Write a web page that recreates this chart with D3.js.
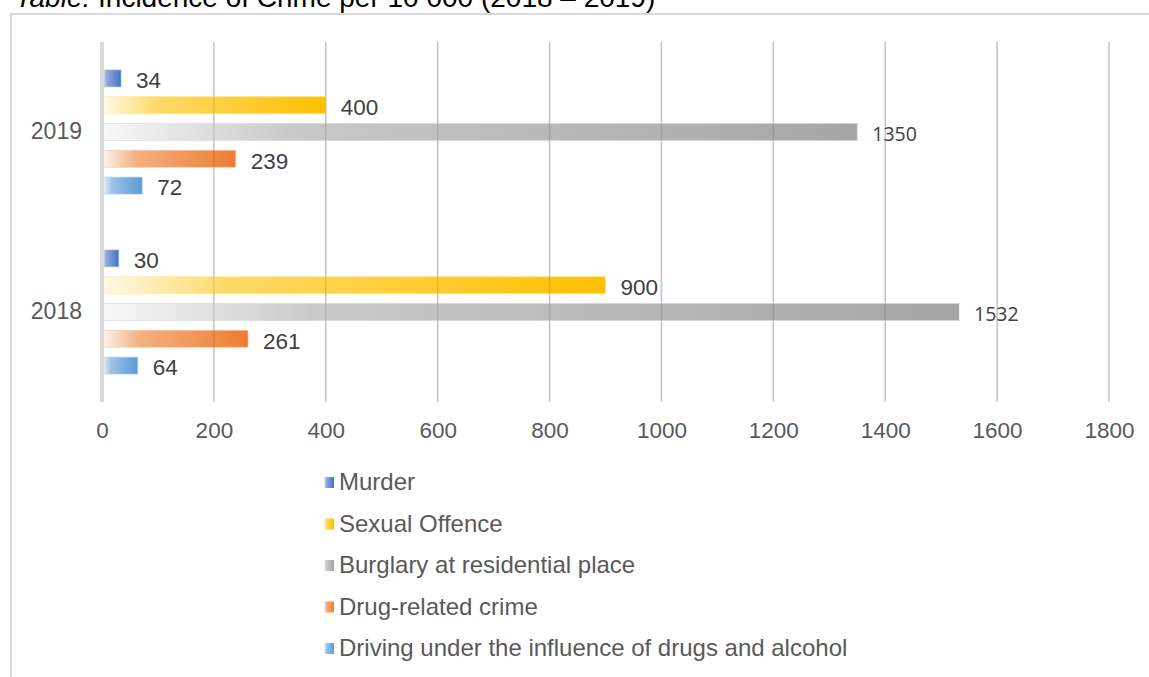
<!DOCTYPE html>
<html>
<head>
<meta charset="utf-8">
<script src="https://cdn.jsdelivr.net/npm/d3@7"></script>
<style>
  html, body { margin: 0; padding: 0; background: #fff; }
  svg { display: block; font-family: "Liberation Sans", Arial, sans-serif; }
</style>
</head>
<body>
<svg id="chart" width="1149" height="677"></svg>
<script>
// Incidence of crime per 10 000 residents, by year
const years = ["2019", "2018"];
const series = [
  "Murder",
  "Sexual Offence",
  "Burglary at residential place",
  "Drug-related crime",
  "Driving under the influence of drugs and alcohol"
];
const values2019 = [34, 400, 1350, 239, 72];
const values2018 = [30, 900, 1532, 261, 64];
const xTicks = [0, 200, 400, 600, 800, 1000, 1200, 1400, 1600, 1800];
const colors = ["#4472C4", "#FFC000", "#A5A5A5", "#ED7D31", "#5B9BD5"];

const valuesByYear = { "2019": values2019, "2018": values2018 };

const svg = d3.select("#chart");
const W = 1149, H = 677;

// Frame of the chart area
svg.append("rect")
  .attr("x", 11).attr("y", 14)
  .attr("width", W + 20).attr("height", H + 20)
  .attr("fill", "none").attr("stroke", "#D9D9D9").attr("stroke-width", 2);

// Title, clipped at the top edge
const title = svg.append("text")
  .attr("x", 15).attr("y", 7)
  .attr("font-size", 28).attr("fill", "#000");
title.append("tspan").attr("font-style", "italic").text("Table:");
title.append("tspan").text(" Incidence of Crime per 10 000 (2018 – 2019)");

// Scales
const x = d3.scaleLinear().domain([0, 1800]).range([102, 1109]);
const y = d3.scaleBand().domain(years).range([42, 402]);
const ySub = d3.scaleBand().domain(series).range([0, y.bandwidth()])
  .paddingInner(0.366).paddingOuter(1.04);

// Gradients: pale on the left, full colour at the bar end
const defs = svg.append("defs");
colors.forEach((c, i) => {
  const g = defs.append("linearGradient")
    .attr("id", "grad" + i)
    .attr("x1", "0%").attr("x2", "100%").attr("y1", "0%").attr("y2", "0%");
  const pale = d3.interpolateRgb("#ffffff", c);
  g.append("stop").attr("offset", "0%").attr("stop-color", pale(0.08));
  g.append("stop").attr("offset", "25%").attr("stop-color", pale(0.6));
  g.append("stop").attr("offset", "100%").attr("stop-color", c);
});

// Vertical gridlines (underlay)
svg.append("g").selectAll("line").data(xTicks.slice(1)).join("line")
  .attr("x1", d => x(d)).attr("x2", d => x(d))
  .attr("y1", 42).attr("y2", 402)
  .attr("stroke", "#D9D9D9").attr("stroke-width", 1.5);

// Bars
const rows = [];
years.forEach(yr => series.forEach((s, i) => rows.push({ yr, s, i, v: valuesByYear[yr][i] })));

svg.append("g").selectAll("rect").data(rows).join("rect")
  .attr("x", x(0))
  .attr("y", d => y(d.yr) + ySub(d.s))
  .attr("width", d => x(d.v) - x(0))
  .attr("height", ySub.bandwidth())
  .attr("fill", d => `url(#grad${d.i})`)
  .attr("stroke", d => d3.interpolateRgb("#ffffff", colors[d.i])(0.45))
  .attr("stroke-opacity", 0.6)
  .attr("stroke-width", 1);

// Gridlines showing through the bars
svg.append("g").selectAll("line").data(xTicks.slice(1)).join("line")
  .attr("x1", d => x(d)).attr("x2", d => x(d))
  .attr("y1", 42).attr("y2", 402)
  .attr("stroke", "#000").attr("stroke-opacity", 0.1).attr("stroke-width", 1.5);

// Category axis line
svg.append("line")
  .attr("x1", x(0)).attr("x2", x(0)).attr("y1", 42).attr("y2", 402)
  .attr("stroke", "#D9D9D9").attr("stroke-width", 4);

// Data labels
svg.append("g").selectAll("text").data(rows).join("text")
  .attr("x", d => x(d.v) + 15)
  .attr("y", d => y(d.yr) + ySub(d.s) + ySub.bandwidth() / 2 + 2)
  .attr("dy", "0.35em")
  .attr("font-family", d => d.v >= 1000 ? "'Open Sans', sans-serif" : null)
  .attr("font-size", d => d.v >= 1000 ? 19.5 : 22.5)
  .attr("fill", "#404040")
  .text(d => d.v);

// X axis tick labels
const xAxis = d3.axisBottom(x).tickValues(xTicks).tickFormat(d3.format("d"))
  .tickSize(0).tickPadding(0);
const gx = svg.append("g").attr("transform", "translate(0,422)").call(xAxis);
gx.select(".domain").remove();
gx.selectAll("text")
  .attr("font-family", "'Liberation Sans', Arial, sans-serif")
  .attr("font-size", 22.5).attr("fill", "#595959")
  .attr("dy", "0.72em");

// Category labels
const yAxis = d3.axisLeft(y).tickSize(0).tickPadding(0);
const gy = svg.append("g").attr("transform", "translate(82,0)").call(yAxis);
gy.select(".domain").remove();
gy.selectAll("text")
  .attr("font-family", "'Liberation Sans', Arial, sans-serif")
  .attr("font-size", 23).attr("fill", "#595959");

// Legend
const legend = svg.append("g").attr("transform", "translate(324,482)");
const item = legend.selectAll("g").data(series).join("g")
  .attr("transform", (d, i) => `translate(0,${i * 41.5})`);
item.append("rect")
  .attr("x", 0).attr("y", -5).attr("width", 10).attr("height", 11)
  .attr("fill", (d, i) => `url(#grad${i})`);
item.append("text")
  .attr("x", 15).attr("dy", "0.35em")
  .attr("font-size", 24).attr("fill", "#595959")
  .text(d => d);
</script>
</body>
</html>
